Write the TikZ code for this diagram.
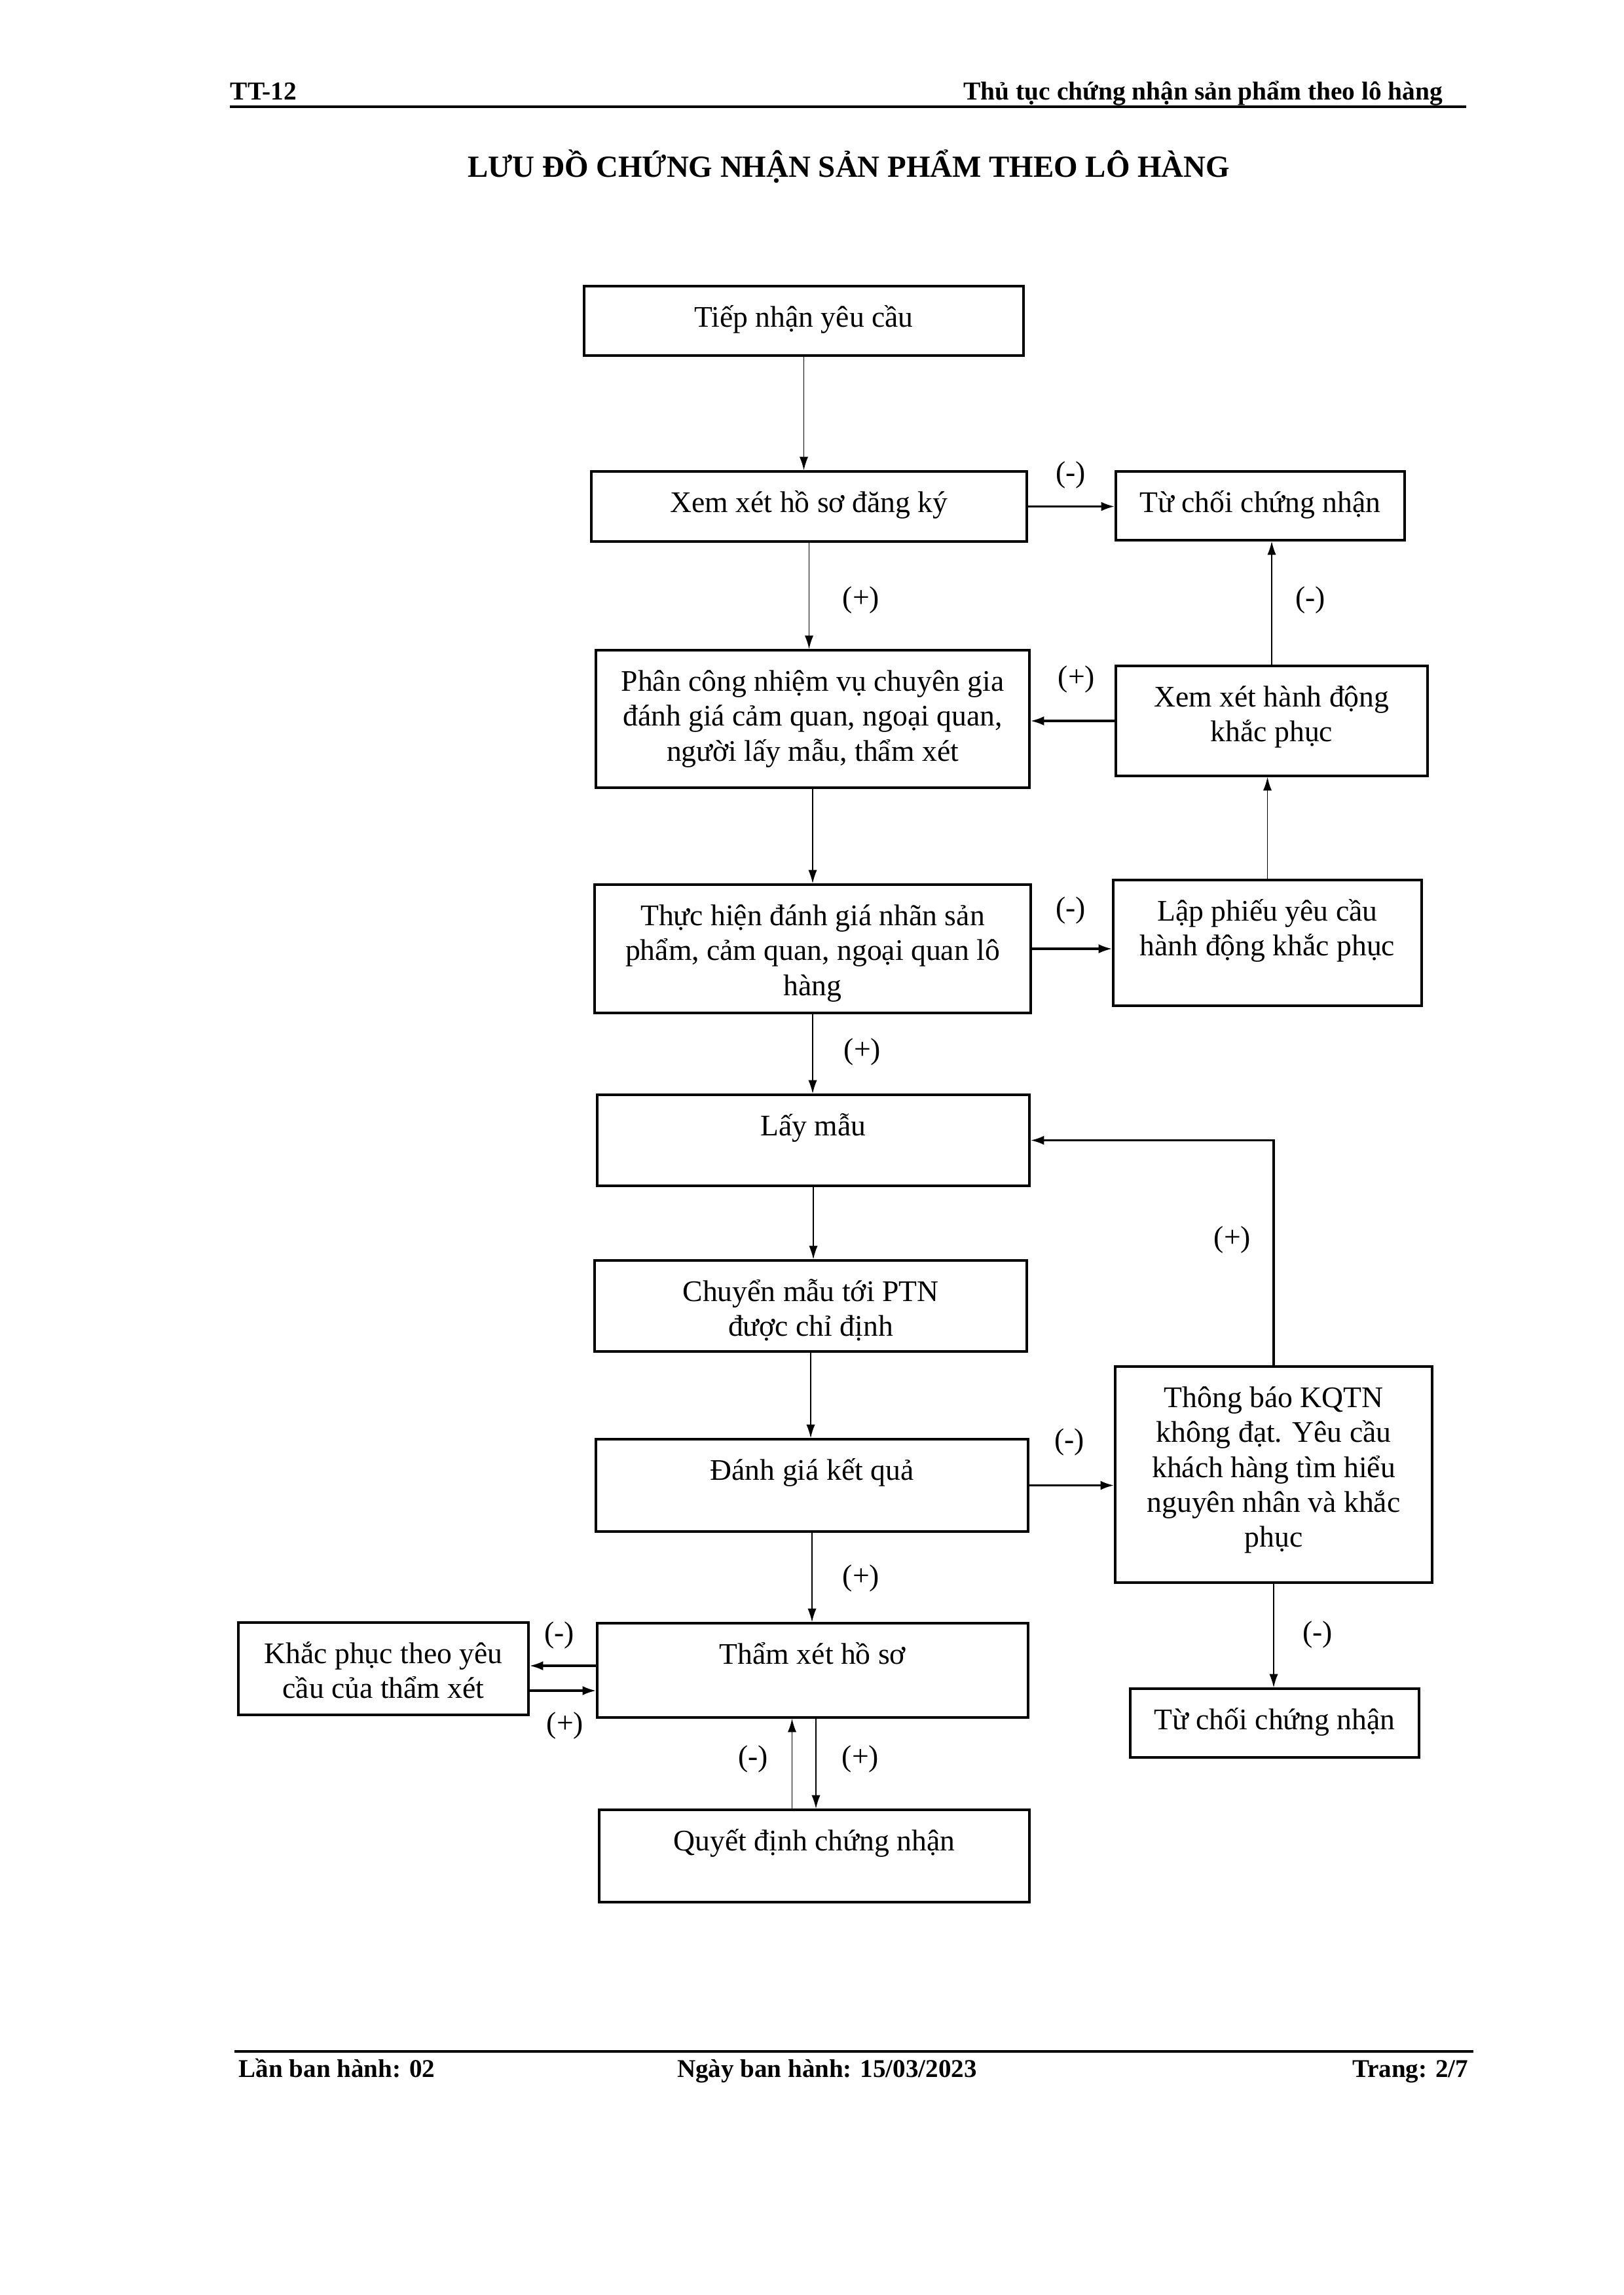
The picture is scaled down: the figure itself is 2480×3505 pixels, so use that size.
\documentclass[tikz,border=0pt]{standalone}
\usepackage{fontspec}
\setmainfont{Liberation Serif}
\usetikzlibrary{arrows.meta,fit,calc}
\begin{document}
\begin{tikzpicture}[x={(0.0846667mm,0)}, y={(0,-0.0846667mm)},
  box/.style={draw, line width=0.8pt, inner sep=0pt},
  txt/.style={align=center, inner sep=0pt, anchor=north, font=\fontsize{11}{12.8}\selectfont},
  lbl/.style={inner sep=0pt, font=\fontsize{11}{12.8}\selectfont},
  arrv/.style={line width=0.45pt, -{Latex[length=5pt,width=3.2pt]}},
  arrh/.style={line width=0.8pt, -{Latex[length=5pt,width=3.4pt]}},
  hdr/.style={inner sep=0pt, font=\fontsize{9.5}{12}\selectfont\bfseries},
  ftr/.style={inner sep=0pt, font=\fontsize{9.4}{12}\selectfont\bfseries}
]
\useasboundingbox (0,0) rectangle (2480,3505);
\fill[white] (0,0) rectangle (2480,3505);

% header
\node[hdr, anchor=base west] (hl) at (351,152) {TT-12};
\node[hdr, anchor=base east] (hr) at (2204,152) {Thủ tục chứng nhận sản phẩm theo lô hàng};
\coordinate (hla) at (351,163);
\coordinate (hlb) at (2239,163);
\draw[line width=1pt] (hla) -- (hlb);
\node[inner sep=0pt, anchor=base, font=\fontsize{11.3}{14}\selectfont\bfseries] (title) at (1296,270) {LƯU ĐỒ CHỨNG NHẬN SẢN PHẨM THEO LÔ HÀNG};

% boxes
\node[box, fit={(892,437) (1563,543)}] (b1) {};
\node[box, fit={(903,720) (1568,827)}] (b2) {};
\node[box, fit={(1704,720) (2145,825)}] (r1) {};
\node[box, fit={(910,993) (1572,1203)}] (b3) {};
\node[box, fit={(1704,1017) (2180,1185)}] (r2) {};
\node[box, fit={(908,1351) (1574,1547)}] (b4) {};
\node[box, fit={(1700,1344) (2171,1536)}] (r3) {};
\node[box, fit={(912,1672) (1572,1811)}] (b5) {};
\node[box, fit={(908,1925) (1568,2064)}] (b6) {};
\node[box, fit={(910,2198) (1570,2339)}] (b7) {};
\node[box, fit={(1703,2087) (2187,2417)}] (r4) {};
\node[box, fit={(912,2479) (1570,2623)}] (b8) {};
\node[box, fit={(364,2478) (807,2619)}] (lb) {};
\node[box, fit={(1726,2579) (2167,2684)}] (r5) {};
\node[box, fit={(915,2764) (1572,2905)}] (b9) {};

% box texts
\newcommand{\fs}{\rule{0pt}{11pt}}
\node[txt] (tb1) at ($(b1.north)+(0,18)$) {\fs Tiếp nhận yêu cầu};
\node[txt] (tb2) at ($(b2.north)+(0,18)$) {\fs Xem xét hồ sơ đăng ký};
\node[txt] (tr1) at ($(r1.north)+(0,18)$) {\fs Từ chối chứng nhận};
\node[txt] (tb3) at ($(b3.north)+(0,18)$) {\fs Phân công nhiệm vụ chuyên gia\\đánh giá cảm quan, ngoại quan,\\người lấy mẫu, thẩm xét};
\node[txt] (tr2) at ($(r2.north)+(0,18)$) {\fs Xem xét hành động\\khắc phục};
\node[txt] (tb4) at ($(b4.north)+(0,18)$) {\fs Thực hiện đánh giá nhãn sản\\phẩm, cảm quan, ngoại quan lô\\hàng};
\node[txt] (tr3) at ($(r3.north)+(0,18)$) {\fs Lập phiếu yêu cầu\\hành động khắc phục};
\node[txt] (tb5) at ($(b5.north)+(0,18)$) {\fs Lấy mẫu};
\node[txt] (tb6) at ($(b6.north)+(0,18)$) {\fs Chuyển mẫu tới PTN\\được chỉ định};
\node[txt] (tb7) at ($(b7.north)+(0,18)$) {\fs Đánh giá kết quả};
\node[txt] (tr4) at ($(r4.north)+(0,18)$) {\fs Thông báo KQTN\\không đạt. Yêu cầu\\khách hàng tìm hiểu\\nguyên nhân và khắc\\phục};
\node[txt] (tb8) at ($(b8.north)+(0,18)$) {\fs Thẩm xét hồ sơ};
\node[txt] (tlb) at ($(lb.north)+(0,18)$) {\fs Khắc phục theo yêu\\cầu của thẩm xét};
\node[txt] (tr5) at ($(r5.north)+(0,18)$) {\fs Từ chối chứng nhận};
\node[txt] (tb9) at ($(b9.north)+(0,18)$) {\fs Quyết định chứng nhận};

% connectors
\draw[arrv] (b1.south) -- (b1.south |- b2.north);
\draw[arrh] (b2.east) -- (b2.east -| r1.west);
\draw[arrv] (b2.south) -- (b2.south |- b3.north);
\draw[arrv] (r2.north) -- (r2.north |- r1.south);
\draw[arrh] (r2.west) -- (r2.west -| b3.east);
\draw[arrv] (b3.south) -- (b3.south |- b4.north);
\draw[arrh] (b4.east) -- (b4.east -| r3.west);
\draw[arrv] (r3.north) -- (r3.north |- r2.south);
\draw[arrv] (b4.south) -- (b4.south |- b5.north);
\draw[arrh] (r4.north) |- (b5.east);
\draw[arrv] (b5.south) -- (b5.south |- b6.north);
\draw[arrv] (b6.south) -- (b6.south |- b7.north);
\draw[arrh] (b7.east) -- (b7.east -| r4.west);
\draw[arrv] (b7.south) -- (b7.south |- b8.north);
\draw[arrv] (r4.south) -- (r4.south |- r5.north);
\coordinate (m1) at ($(b8.west)+(0,-7)$);
\coordinate (m2) at ($(b8.west)+(0,31)$);
\draw[arrh] (m1) -- (m1 -| lb.east);
\draw[arrh] (m2 -| lb.east) -- (m2);
\coordinate (u1) at ($(b9.north)+(-34,0)$);
\coordinate (d1) at ($(b8.south)+(5,0)$);
\draw[arrv] (u1) -- (u1 |- b8.south);
\draw[arrv] (d1) -- (d1 |- b9.north);

% labels
\node[lbl] (l1) at (1635,726) {(-)};
\node[lbl] (l2) at (1315,917) {(+)};
\node[lbl] (l3) at (2001,917) {(-)};
\node[lbl] (l4) at (1644,1038) {(+)};
\node[lbl] (l5) at (1635,1390) {(-)};
\node[lbl] (l6) at (1317,1606) {(+)};
\node[lbl] (l7) at (1882,1893) {(+)};
\node[lbl] (l8) at (1633,2202) {(-)};
\node[lbl] (l9) at (1315,2410) {(+)};
\node[lbl] (l10) at (2012,2496) {(-)};
\node[lbl] (l11) at (854,2497) {(-)};
\node[lbl] (l12) at (863,2635) {(+)};
\node[lbl] (l13) at (1150,2686) {(-)};
\node[lbl] (l14) at (1314,2686) {(+)};

% footer
\coordinate (fla) at (358,3133);
\coordinate (flb) at (2250,3133);
\draw[line width=1pt] (fla) -- (flb);
\node[ftr, anchor=base west] (f1) at (364,3172) {Lần ban hành: 02};
\node[ftr, anchor=base] (f2) at (1263,3172) {Ngày ban hành: 15/03/2023};
\node[ftr, anchor=base east] (f3) at (2243,3172) {Trang: 2/7};
\end{tikzpicture}
\end{document}
